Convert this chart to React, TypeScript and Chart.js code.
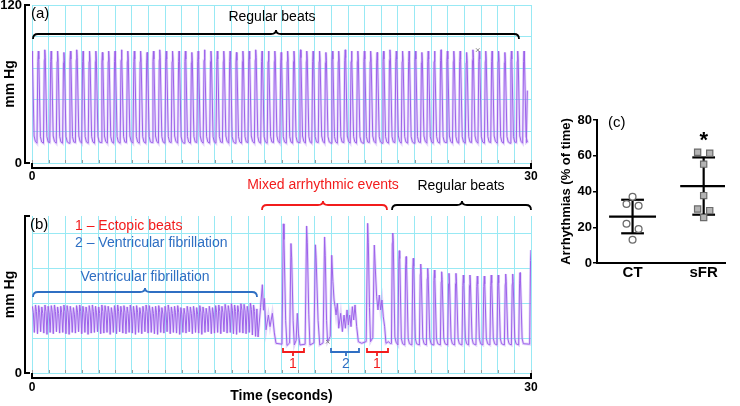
import { useEffect, useRef } from 'react';
import { Chart, registerables } from 'chart.js';

Chart.register(...registerables);

const FONT = "'Liberation Sans', Arial, Helvetica, sans-serif";
Chart.defaults.font.family = FONT;
Chart.defaults.color = '#000';

const TRACE = '#9d62ea';
const HALO = 'rgba(190, 155, 245, 0.4)';
const GRID = '#98e9f4';
const RED = '#f21c1c';
const BLUE = '#2f6fc3';

// ================= DATA =================
// Panel (a): regular beats (time of systolic peak, s)
const aBeatTimes = [
  0.00, 0.38, 0.77, 1.15, 1.54, 1.92, 2.31, 2.69, 3.07, 3.46,
  3.84, 4.23, 4.61, 4.99, 5.38, 5.76, 6.15, 6.53, 6.92, 7.30,
  7.68, 8.07, 8.45, 8.84, 9.22, 9.61, 9.99, 10.37, 10.76, 11.14,
  11.53, 11.91, 12.29, 12.68, 13.06, 13.45, 13.83, 14.22, 14.60, 14.98,
  15.37, 15.75, 16.14, 16.52, 16.90, 17.29, 17.67, 18.06, 18.44, 18.83,
  19.21, 19.59, 19.98, 20.36, 20.75, 21.13, 21.52, 21.90, 22.28, 22.67,
  23.05, 23.44, 23.82, 24.20, 24.59, 24.97, 25.36, 25.74, 26.13, 26.51,
  26.89, 27.28, 27.66, 28.05, 28.43, 28.82, 29.20, 29.58,
];
const aSystolic = [
  85, 85, 86, 85, 85, 84, 85, 86, 85, 85,
  85, 84, 85, 85, 86, 85, 85, 85, 84, 85,
  86, 85, 85, 85, 85, 84, 85, 86, 85, 85,
  85, 85, 84, 85, 85, 86, 85, 85, 85, 84,
  85, 85, 86, 85, 85, 85, 84, 85, 85, 86,
  85, 85, 85, 85, 84, 85, 86, 85, 85, 85,
  85, 84, 85, 85, 86, 85, 85, 85, 84, 86,
  85, 85, 85, 85, 84, 85, 85, 85,
];
const aDiastolic = [
  15.5, 15, 15, 15.5, 15, 15, 15, 15.5, 15, 15,
  15, 15.5, 15, 15, 15, 15.5, 15, 15, 15, 15.5,
  15, 15, 15.5, 15, 15, 15, 15.5, 15, 15, 15,
  15.5, 15, 15, 15, 15.5, 15, 15, 15, 15.5, 15,
  15, 15, 15.5, 15, 15, 15.5, 15, 15, 15, 15.5,
  15, 15, 15, 15.5, 15, 15, 15, 15.5, 15, 15,
  15, 15.5, 15, 15, 15, 15.5, 15, 15, 15, 15.5,
  15, 15, 15.5, 15, 15, 15, 15.5, 15,
];
// end of the trace: start of the next (cut) upstroke [time, mmHg]
const aTail: [number, number][] = [[29.72, 15.5], [29.78, 55]];
const aMarker: [number, number][] = [[26.80, 85.8]];

// Panel (b): ventricular fibrillation (time of each oscillation top)
const bVfTimes = [
  0.02, 0.21, 0.40, 0.59, 0.78, 0.97, 1.16, 1.35, 1.54, 1.73,
  1.92, 2.11, 2.30, 2.49, 2.68, 2.87, 3.06, 3.25, 3.44, 3.63,
  3.82, 4.01, 4.20, 4.39, 4.58, 4.77, 4.96, 5.15, 5.34, 5.53,
  5.72, 5.91, 6.10, 6.29, 6.48, 6.67, 6.86, 7.05, 7.24, 7.43,
  7.62, 7.81, 8.00, 8.19, 8.38, 8.57, 8.76, 8.95, 9.14, 9.33,
  9.52, 9.71, 9.90, 10.09, 10.28, 10.47, 10.66, 10.85, 11.04, 11.23,
  11.42, 11.61, 11.80, 11.99, 12.18, 12.37, 12.56, 12.75, 12.94, 13.13,
  13.32,
];
const bVfTops = [
  51, 52, 51.5, 50.5, 52, 51, 51.5, 52, 50.5, 51,
  52, 51.5, 51, 50, 51.5, 52, 51, 50.5, 51.5, 52,
  51, 50.5, 52, 51.5, 51, 50, 51.5, 52, 51, 51.5,
  50.5, 52, 51, 51.5, 50, 51, 52, 51.5, 50.5, 51,
  51.5, 50, 51, 52, 50.5, 51, 51.5, 50, 49.5, 51,
  50.5, 51, 50, 51.5, 50.5, 49.5, 51, 50, 51.5, 52,
  51, 52.5, 51.5, 53, 52, 51.5, 53, 52.5, 51, 53.5, 52,
];
const bVfBottoms = [
  31, 30, 31.5, 30.5, 29.5, 31, 30, 31.5, 30.5, 31,
  30, 29.5, 31, 30.5, 31.5, 30, 31, 29.5, 30.5, 31,
  31.5, 30, 30.5, 31, 29.5, 31, 30, 31.5, 30.5, 30,
  31, 30.5, 29.5, 31, 30, 31.5, 30.5, 31, 30, 29.5,
  31, 30.5, 31.5, 30, 31, 30.5, 29.5, 31, 30.5, 31.5,
  30, 31, 30.5, 29.5, 31, 31.5, 30, 30.5, 31, 30,
  31.5, 30.5, 31, 30, 29.5, 31, 30.5, 30, 31, 29, 28,
];
// mixed arrhythmic events [time s, mmHg]
const bMixed: [number, number][] = [
  [13.52, 49], [13.59, 27.5], [13.74, 50], [13.85, 67.5], [13.92, 48], [13.97, 57],
  [14.07, 33], [14.21, 44.3], [14.31, 35.4], [14.45, 45.6], [14.57, 30.6], [14.67, 22.7],
  [15.03, 22], [15.11, 114], [15.15, 102], [15.25, 40], [15.33, 21],
  [15.49, 23], [15.57, 99], [15.61, 88], [15.70, 40], [15.77, 21.4],
  [15.88, 25], [15.95, 45.6], [16.02, 30], [16.11, 21.4],
  [16.42, 22], [16.51, 112.4], [16.55, 100], [16.64, 45], [16.71, 21.4],
  [16.95, 23], [17.04, 98], [17.08, 88], [17.20, 40], [17.30, 21.4],
  [17.50, 23], [17.59, 104], [17.63, 90], [17.71, 40], [17.77, 23.9],
  [17.93, 28], [18.02, 90], [18.09, 70], [18.16, 55.8], [18.22, 50.7], [18.28, 44.3],
  [18.36, 53.3], [18.44, 34.2], [18.56, 45.6], [18.66, 31.6], [18.76, 44.3], [18.84, 34.2],
  [18.94, 48.2], [19.02, 36.7], [19.10, 44.3], [19.18, 35.4], [19.26, 50.7], [19.34, 40.5],
  [19.42, 52], [19.52, 35.4], [19.62, 23.9], [19.82, 22.7],
  [20.09, 24], [20.18, 114.4], [20.22, 100], [20.29, 50], [20.35, 23.9],
  [20.49, 27], [20.58, 97.8], [20.64, 80], [20.72, 58.3], [20.80, 48.2], [20.88, 59.6],
  [20.96, 48.2], [21.04, 55.8], [21.12, 43], [21.20, 35.4], [21.28, 22.7], [21.42, 23.9],
  [21.56, 22.5],
];
// regular beats after the arrhythmia
const bBeatTimes = [
  21.69, 22.08, 22.49, 22.92, 23.37, 23.79, 24.19, 24.63, 25.07, 25.49,
  25.93, 26.33, 26.77, 27.19, 27.61, 28.03, 28.48, 28.90, 29.34, 30.00,
];
const bSystolic = [
  107, 93.5, 89, 87.7, 83.3, 80, 78.7, 77.4, 76.2, 76.2,
  74.9, 74.9, 74.1, 74.1, 74.9, 74.9, 75.7, 75.7, 76.7, 94,
];
const bDiastolic = [
  22.5, 21.4, 21.4, 21.4, 21.4, 21.4, 21.4, 21.4, 21.4, 21.4,
  21.4, 21.4, 21.4, 21.4, 21.4, 21.4, 21.4, 21.4, 21.4, 22,
];
const bMarker: [number, number][] = [[17.78, 23.9]];

// Panel (c): arrhythmias (% of time)
const groups = ['CT', 'sFR'];
const ctValues = [37, 33, 32, 22, 19, 13];
const ctJitter = [0, -1, 1, -1, 1, 0];
const sfrValues = [62, 61.4, 55.3, 37.7, 30.2, 29.3, 25.4];
const sfrJitter = [-1, 1, 0, 0, -1, 1, 0];

// ================= HELPERS =================
type Pt = { x: number; y: number };

function beatTrace(times: number[], sys: number[], dia: number[]): Pt[] {
  const pts: Pt[] = [];
  times.forEach((t, i) => {
    const s = sys[i];
    const d = dia[i];
    pts.push({ x: t - 0.08, y: d });
    pts.push({ x: t - 0.028, y: s - 8 });
    pts.push({ x: t, y: s });
    pts.push({ x: t + 0.028, y: s - 6 });
    pts.push({ x: t + 0.125, y: d + 5 });
    pts.push({ x: t + 0.2, y: d + 1 });
  });
  return pts;
}

function vfTrace(times: number[], tops: number[], bottoms: number[]): Pt[] {
  const pts: Pt[] = [];
  times.forEach((t, i) => {
    pts.push({ x: t, y: tops[i] });
    pts.push({ x: t + 0.06, y: tops[i] - 5 });
    pts.push({ x: t + 0.12, y: bottoms[i] });
  });
  return pts;
}

const toPts = (arr: [number, number][]): Pt[] => arr.map(([x, y]) => ({ x, y }));

function mean(v: number[]) {
  return v.reduce((a, b) => a + b, 0) / v.length;
}
function sd(v: number[]) {
  const m = mean(v);
  return Math.sqrt(v.reduce((a, b) => a + (b - m) * (b - m), 0) / (v.length - 1));
}

function txt(ctx: CanvasRenderingContext2D, s: string, x: number, y: number, size: number, color: string, align: CanvasTextAlign = 'center', weight = 'normal') {
  ctx.font = `${weight} ${size}px ${FONT}`;
  ctx.fillStyle = color;
  ctx.textAlign = align;
  ctx.textBaseline = 'middle';
  ctx.fillText(s, x, y);
}

function curly(ctx: CanvasRenderingContext2D, x1: number, x2: number, xc: number, y: number, color: string) {
  const h = 5;
  ctx.save();
  ctx.strokeStyle = color;
  ctx.lineWidth = 1.8;
  ctx.beginPath();
  ctx.moveTo(x1, y + h);
  ctx.quadraticCurveTo(x1, y, x1 + h, y);
  ctx.lineTo(xc - h, y);
  ctx.quadraticCurveTo(xc, y, xc, y - 4);
  ctx.quadraticCurveTo(xc, y, xc + h, y);
  ctx.lineTo(x2 - h, y);
  ctx.quadraticCurveTo(x2, y, x2, y + h);
  ctx.stroke();
  ctx.restore();
}

function squareBracket(ctx: CanvasRenderingContext2D, x1: number, x2: number, xc: number, y: number, color: string) {
  ctx.save();
  ctx.strokeStyle = color;
  ctx.lineWidth = 1.8;
  ctx.beginPath();
  ctx.moveTo(x1, y - 4);
  ctx.lineTo(x1, y);
  ctx.lineTo(x2, y);
  ctx.lineTo(x2, y - 4);
  ctx.moveTo(xc, y);
  ctx.lineTo(xc, y + 4);
  ctx.stroke();
  ctx.restore();
}

function offsetAxes(ctx: CanvasRenderingContext2D, chart: any) {
  const x = chart.scales.x;
  const y = chart.scales.y;
  const yTop = y.getPixelForValue(120);
  const yBot = y.getPixelForValue(0);
  const xL = x.getPixelForValue(0);
  const xR = x.getPixelForValue(30);
  ctx.save();
  ctx.strokeStyle = '#9a9a9a';
  ctx.lineWidth = 1;
  x.ticks.forEach((t: any) => {
    const px = Math.round(x.getPixelForValue(t.value)) + 0.5;
    ctx.beginPath();
    ctx.moveTo(px, yBot);
    ctx.lineTo(px, yBot - 3);
    ctx.stroke();
  });
  ctx.strokeStyle = '#000';
  ctx.lineWidth = 2;
  const ax = xL - 7;
  ctx.beginPath();
  ctx.moveTo(ax + 5, yTop);
  ctx.lineTo(ax, yTop);
  ctx.lineTo(ax, yBot);
  ctx.lineTo(ax + 5, yBot);
  ctx.stroke();
  const ay = yBot + 5;
  ctx.beginPath();
  ctx.moveTo(xL, ay - 5);
  ctx.lineTo(xL, ay);
  ctx.lineTo(xR, ay);
  ctx.lineTo(xR, ay - 5);
  ctx.stroke();
  ctx.restore();
}

function traceChart(
  canvas: HTMLCanvasElement,
  trace: Pt[],
  marker: Pt[],
  cfg: { padTop: number; xHeight: number; xPad: number; yDiv: number; xTitle?: string; annotate: (ctx: CanvasRenderingContext2D, chart: any) => void }
) {
  return new Chart(canvas, {
    type: 'line',
    data: {
      datasets: [
        { data: trace as any, borderColor: TRACE, borderWidth: 1, pointRadius: 0, tension: 0, order: 1 },
        { data: trace as any, borderColor: HALO, borderWidth: 2.7, pointRadius: 0, tension: 0, order: 2 },
        { type: 'scatter', data: marker as any, pointStyle: 'crossRot', pointRadius: 2.5, borderColor: '#888', borderWidth: 1, order: 0 } as any,
      ],
    },
    options: {
      responsive: false,
      animation: false,
      devicePixelRatio: 1,
      events: [],
      layout: { padding: { top: cfg.padTop, right: 14, left: 0, bottom: 0 } },
      plugins: { legend: { display: false }, tooltip: { enabled: false } },
      scales: {
        x: {
          type: 'linear',
          min: 0,
          max: 30,
          grid: { color: GRID, lineWidth: 1, drawTicks: false, tickLength: 0 },
          border: { display: false },
          ticks: {
            stepSize: 1,
            autoSkip: false,
            maxRotation: 0,
            padding: cfg.xPad,
            font: { size: 12, weight: 'bold' },
            color: '#000',
            callback: (v: any) => (v === 0 || v === 30 ? String(v) : ''),
          },
          title: cfg.xTitle
            ? { display: true, text: cfg.xTitle, font: { size: 14, weight: 'bold' }, color: '#000', padding: { top: 0, bottom: 1 } }
            : { display: false },
          afterFit: (s: any) => {
            s.height = cfg.xHeight;
            s.paddingLeft = 0;
            s.paddingRight = 0;
          },
        },
        y: {
          type: 'linear',
          min: 0,
          max: 120,
          grid: { color: GRID, lineWidth: 1, drawTicks: false, tickLength: 0 },
          border: { display: false },
          afterBuildTicks: (s: any) => {
            const t = [];
            for (let i = 0; i <= cfg.yDiv; i++) t.push({ value: (120 * i) / cfg.yDiv });
            s.ticks = t;
          },
          ticks: {
            padding: 10,
            font: { size: 13, weight: 'bold' },
            color: '#000',
            callback: (v: any) => (v === 0 || v === 120 ? String(v) : ''),
          },
          title: { display: true, text: 'mm Hg', font: { size: 14, weight: 'bold' }, color: '#000', padding: { top: 2, bottom: 0 } },
          afterFit: (s: any) => {
            s.width = 32;
            s.paddingTop = 0;
            s.paddingBottom = 0;
          },
        },
      },
    } as any,
    plugins: [
      {
        id: 'decor',
        afterDraw(chart: any) {
          const ctx = chart.ctx;
          offsetAxes(ctx, chart);
          ctx.save();
          cfg.annotate(ctx, chart);
          ctx.restore();
        },
      },
    ],
  });
}

// ================= APP =================
export default function App() {
  const refA = useRef<HTMLCanvasElement>(null);
  const refB = useRef<HTMLCanvasElement>(null);
  const refC = useRef<HTMLCanvasElement>(null);

  useEffect(() => {
    document.body.style.margin = '0';

    const traceA = [...beatTrace(aBeatTimes, aSystolic, aDiastolic), ...toPts(aTail)];
    const chartA = traceChart(refA.current!, traceA, toPts(aMarker), {
      padTop: 5,
      xHeight: 19,
      xPad: 6,
      yDiv: 10,
      annotate: (ctx) => {
        txt(ctx, '(a)', 31, 14, 15, '#000', 'left');
        txt(ctx, 'Regular beats', 272, 17, 14, '#000');
        curly(ctx, 33, 519, 276, 34, '#000');
      },
    });

    const traceB = [
      ...vfTrace(bVfTimes, bVfTops, bVfBottoms),
      ...toPts(bMixed),
      ...beatTrace(bBeatTimes, bSystolic, bDiastolic),
    ];
    const chartB = traceChart(refB.current!, traceB, toPts(bMarker), {
      padTop: 40,
      xHeight: 33,
      xPad: 7,
      yDiv: 9,
      xTitle: 'Time (seconds)',
      annotate: (ctx) => {
        txt(ctx, '(b)', 30, 49, 15, '#000', 'left');
        txt(ctx, '1 \u2013 Ectopic beats', 75, 50, 14, RED, 'left');
        txt(ctx, '2 \u2013 Ventricular fibrillation', 75, 67, 14, BLUE, 'left');
        txt(ctx, 'Ventricular fibrillation', 145, 101, 14, BLUE);
        curly(ctx, 33, 257, 145, 116, BLUE);
        txt(ctx, 'Mixed arrhythmic events', 323, 9, 14, RED);
        curly(ctx, 262, 387, 323, 29, RED);
        txt(ctx, 'Regular beats', 461, 10, 14, '#000');
        curly(ctx, 392, 531, 462, 29, '#000');
        squareBracket(ctx, 283, 304, 293, 176, RED);
        squareBracket(ctx, 331, 359, 346, 176, BLUE);
        squareBracket(ctx, 367, 388, 377, 176, RED);
        txt(ctx, '1', 293, 188, 14, RED);
        txt(ctx, '2', 346, 188, 14, BLUE);
        txt(ctx, '1', 377, 188, 14, RED);
      },
    });

    const centers = [1, 3];
    const stats = [ctValues, sfrValues].map((v) => ({ m: mean(v), s: sd(v) }));
    const barDatasets: any[] = [];
    stats.forEach(({ m, s }, gi) => {
      const c = centers[gi];
      const base = { type: 'scatter', showLine: true, pointRadius: 0, borderColor: '#000', borderWidth: 2.2, order: 5 };
      barDatasets.push({ ...base, data: [{ x: c - 0.66, y: m }, { x: c + 0.66, y: m }] });
      barDatasets.push({ ...base, data: [{ x: c, y: m - s }, { x: c, y: m + s }] });
      barDatasets.push({ ...base, data: [{ x: c - 0.32, y: m + s }, { x: c + 0.32, y: m + s }] });
      barDatasets.push({ ...base, data: [{ x: c - 0.32, y: m - s }, { x: c + 0.32, y: m - s }] });
    });

    const chartC = new Chart(refC.current!, {
      type: 'scatter',
      data: {
        datasets: [
          {
            data: ctValues.map((v, i) => ({ x: centers[0] + ctJitter[i] * 0.17, y: v })),
            pointStyle: 'circle',
            pointRadius: 3.4,
            backgroundColor: '#ffffff',
            borderColor: '#6b6b6b',
            borderWidth: 1.3,
            order: 1,
          },
          {
            data: sfrValues.map((v, i) => ({ x: centers[1] + sfrJitter[i] * 0.17, y: v })),
            pointStyle: 'rect',
            pointRadius: 4.4,
            backgroundColor: '#b4b4b4',
            borderColor: '#6b6b6b',
            borderWidth: 1.2,
            order: 1,
          },
          ...barDatasets,
        ],
      },
      options: {
        responsive: false,
        animation: false,
        devicePixelRatio: 1,
        events: [],
        layout: { padding: { top: 20, right: 15, left: 0, bottom: 0 } },
        plugins: { legend: { display: false }, tooltip: { enabled: false } },
        scales: {
          x: {
            type: 'linear',
            min: 0,
            max: 3.6,
            grid: { display: true, drawOnChartArea: false, drawTicks: false, tickLength: 0 },
            border: { display: true, color: '#000', width: 2 },
            afterBuildTicks: (s: any) => {
              s.ticks = centers.map((c) => ({ value: c }));
            },
            ticks: {
              padding: 1,
              font: { size: 15, weight: 'bold' },
              color: '#000',
              callback: (v: any) => groups[centers.indexOf(v)] ?? '',
            },
            afterFit: (s: any) => {
              s.height = 37;
            },
          },
          y: {
            type: 'linear',
            min: 0,
            max: 80,
            grid: { display: true, drawOnChartArea: false, drawTicks: true, tickLength: 4, color: '#000', lineWidth: 1.5 },
            border: { display: true, color: '#000', width: 2 },
            ticks: { stepSize: 20, padding: 1, font: { size: 13, weight: 'bold' }, color: '#000' },
            title: {
              display: true,
              text: 'Arrhythmias (% of time)',
              font: { size: 13, weight: 'bold' },
              color: '#000',
              padding: { top: 14, bottom: 0 },
            },
            afterFit: (s: any) => {
              s.width = 52;
            },
          },
        },
      } as any,
      plugins: [
        {
          id: 'decorC',
          afterDraw(chart: any) {
            const ctx = chart.ctx;
            ctx.save();
            txt(ctx, '(c)', 63, 23, 15, '#000', 'left');
            txt(ctx, '*', chart.scales.x.getPixelForValue(centers[1]), 41, 22, '#000', 'center', 'bold');
            ctx.restore();
          },
        },
      ],
    });

    return () => {
      chartA.destroy();
      chartB.destroy();
      chartC.destroy();
    };
  }, []);

  return (
    <div style={{ position: 'relative', width: 740, height: 406, background: '#fff', overflow: 'hidden' }}>
      <canvas ref={refA} width={545} height={182} style={{ position: 'absolute', left: 0, top: 0 }} />
      <canvas ref={refB} width={545} height={230} style={{ position: 'absolute', left: 0, top: 176 }} />
      <canvas ref={refC} width={195} height={200} style={{ position: 'absolute', left: 545, top: 100 }} />
    </div>
  );
}
